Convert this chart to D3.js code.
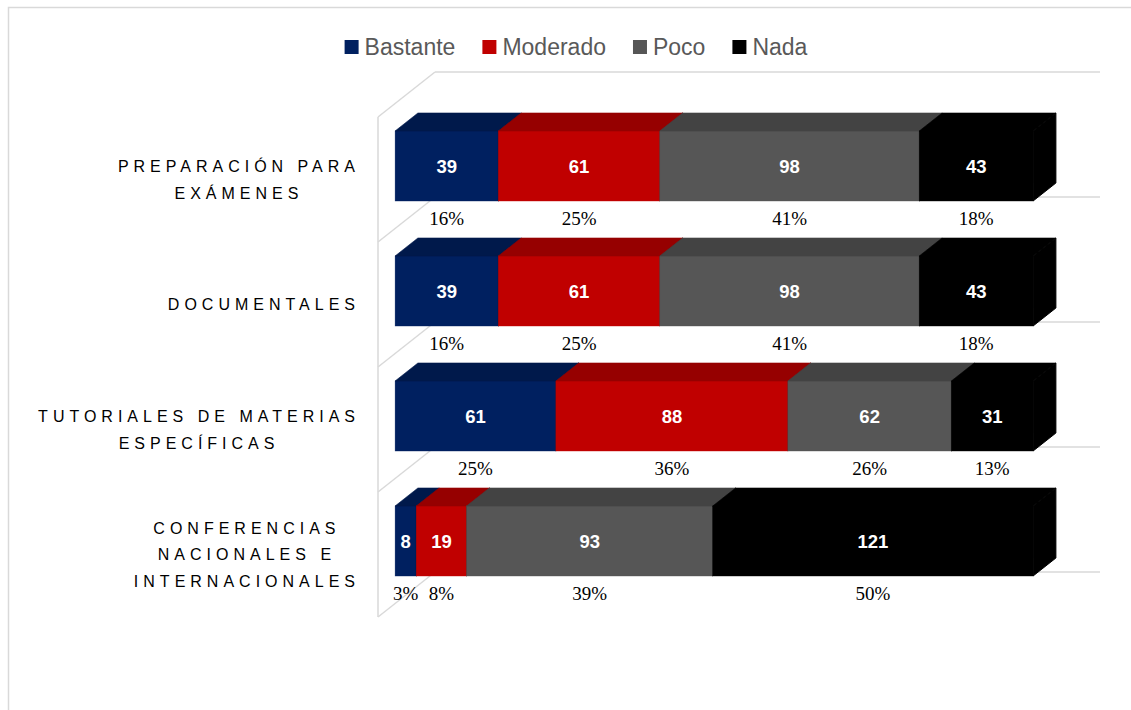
<!DOCTYPE html>
<html>
<head>
<meta charset="utf-8">
<script src="https://cdn.jsdelivr.net/npm/d3@7"></script>
<style>
  html, body { margin: 0; padding: 0; background: #ffffff; }
  svg { display: block; }
</style>
</head>
<body>
<svg id="chart" width="1131" height="710"></svg>
<script>
// ---------------- DATA ----------------
const categories = [
  ["PREPARACIÓN PARA", "EXÁMENES"],
  ["DOCUMENTALES"],
  ["TUTORIALES DE MATERIAS", "ESPECÍFICAS"],
  ["CONFERENCIAS", "NACIONALES E", "INTERNACIONALES"]
];
const seriesNames = ["Bastante", "Moderado", "Poco", "Nada"];
const bastante = [39, 39, 61, 8];
const moderado = [61, 61, 88, 19];
const poco     = [98, 98, 62, 93];
const nada     = [43, 43, 31, 121];
const percentLabels = [
  ["16%", "25%", "41%", "18%"],
  ["16%", "25%", "41%", "18%"],
  ["25%", "36%", "26%", "13%"],
  ["3%",  "8%",  "39%", "50%"]
];
const seriesColors = ["#002060", "#C00000", "#565656", "#000000"];

// ---------------- LAYOUT ----------------
const svg = d3.select("#chart");
const W = 1131, H = 710;
const wallFrontX = 378;
const wallTop = 117, wallBottom = 617;
const depthX = 57, depthY = 45;
const barDepthFrac = 0.4;
const barDX = depthX * barDepthFrac, barDY = depthY * barDepthFrac;
const barOffX = depthX * (1 - barDepthFrac) / 2, barOffY = depthY * (1 - barDepthFrac) / 2;
const gridEndX = 1100;
const gridColor = "#d9d9d9";

const values = [bastante, moderado, poco, nada];
const rows = categories.map((c, i) => {
  const vals = values.map(s => s[i]);
  const total = d3.sum(vals);
  let acc = 0;
  const segs = vals.map((v, j) => {
    const s = { j, v, x0: acc / total, x1: (acc + v) / total, pct: percentLabels[i][j] };
    acc += v;
    return s;
  });
  return { i, label: c, segs };
});

const catKeys = categories.map((c, i) => i);
const y = d3.scaleBand().domain(catKeys).range([wallTop, wallBottom]);
const x = d3.scaleLinear().domain([0, 1]).range([wallFrontX, 1016]);
const barH = y.bandwidth() * 0.56;

// outer chart border
svg.append("rect")
  .attr("x", 8.5).attr("y", 7.5)
  .attr("width", W + 20).attr("height", H + 20)
  .attr("fill", "none").attr("stroke", gridColor).attr("stroke-width", 1.5);

// ---------------- WALLS / GRID ----------------
const grid = svg.append("g").attr("stroke", gridColor).attr("stroke-width", 1.5).attr("fill", "none");
grid.append("line")
  .attr("x1", wallFrontX).attr("x2", wallFrontX)
  .attr("y1", wallTop).attr("y2", wallBottom);
const bounds = catKeys.map(k => y(k)).concat([wallBottom]);
bounds.forEach(b => {
  grid.append("line")
    .attr("x1", wallFrontX).attr("y1", b)
    .attr("x2", wallFrontX + depthX).attr("y2", b - depthY);
  grid.append("line")
    .attr("x1", wallFrontX + depthX).attr("y1", b - depthY)
    .attr("x2", gridEndX).attr("y2", b - depthY);
});

// ---------------- BARS ----------------
const bars = svg.append("g");
rows.forEach(r => {
  const cy = y(r.i) + y.bandwidth() / 2 - barOffY;
  const top = cy - barH / 2, bot = cy + barH / 2;
  const g = bars.append("g");
  r.segs.forEach(s => {
    const xa = x(s.x0) + barOffX;
    const xb = x(s.x1) + barOffX;
    const front = d3.color(seriesColors[s.j]);
    const frontC = front.formatHex();
    const topC = front.darker(0.7).formatHex();
    const sideC = front.darker(1).formatHex();
    g.append("rect")
      .attr("x", xa).attr("y", top)
      .attr("width", xb - xa).attr("height", bot - top)
      .attr("fill", frontC).attr("stroke", frontC).attr("stroke-width", 0.4);
    g.append("path")
      .attr("d", `M${xa},${top}L${xa + barDX},${top - barDY}L${xb + barDX},${top - barDY}L${xb},${top}Z`)
      .attr("fill", topC).attr("stroke", topC).attr("stroke-width", 0.6);
    g.append("path")
      .attr("d", `M${xb},${top}L${xb + barDX},${top - barDY}L${xb + barDX},${bot - barDY}L${xb},${bot}Z`)
      .attr("fill", sideC).attr("stroke", sideC).attr("stroke-width", 1)
      .attr("stroke-linejoin", "round");
  });
  r.segs.forEach(s => {
    const xa = x(s.x0) + barOffX, xb = x(s.x1) + barOffX;
    g.append("text")
      .attr("x", (xa + xb) / 2).attr("y", cy)
      .attr("dy", "0.36em")
      .attr("text-anchor", "middle")
      .attr("font-family", "Liberation Sans, Arial, sans-serif")
      .attr("font-weight", "bold")
      .attr("font-size", 18.5)
      .attr("fill", "#ffffff")
      .text(s.v);
  });
  r.segs.forEach(s => {
    const xa = x(s.x0) + barOffX, xb = x(s.x1) + barOffX;
    g.append("text")
      .attr("x", (xa + xb) / 2).attr("y", bot + 24)
      .attr("text-anchor", "middle")
      .attr("font-family", "Liberation Serif, 'Times New Roman', serif")
      .attr("font-size", 19)
      .attr("fill", "#000000")
      .text(s.pct);
  });
});

// ---------------- CATEGORY LABELS ----------------
const labelRight = 355;
const ls = 5.0, lineH = 26.5;
const labG = svg.append("g")
  .attr("font-family", "Liberation Sans, Arial, sans-serif")
  .attr("font-size", 16)
  .attr("fill", "#000000");
rows.forEach(r => {
  const cy = y(r.i) + y.bandwidth() / 2;
  const n = r.label.length;
  const texts = r.label.map((line, li) =>
    labG.append("text")
      .attr("y", cy + (li - (n - 1) / 2) * lineH)
      .attr("dy", "0.36em")
      .attr("letter-spacing", ls)
      .attr("text-anchor", "middle")
      .text(line));
  const maxW = d3.max(texts, t => t.node().getComputedTextLength()) - ls;
  const center = labelRight - maxW / 2;
  texts.forEach(t => t.attr("x", center + ls / 2));
});

// ---------------- LEGEND ----------------
const leg = svg.append("g");
const sq = 14, gapT = 6, gapI = 27, legY = 47;
let lx = 0;
seriesNames.forEach((name, j) => {
  const it = leg.append("g").attr("transform", `translate(${lx},0)`);
  it.append("rect").attr("x", 0).attr("y", legY - sq / 2).attr("width", sq).attr("height", sq)
    .attr("fill", seriesColors[j]);
  const t = it.append("text").attr("x", sq + gapT).attr("y", legY).attr("dy", "0.36em")
    .attr("font-family", "Liberation Sans, Arial, sans-serif")
    .attr("font-size", 23).attr("fill", "#595959").text(name);
  const w = t.node().getComputedTextLength();
  lx += sq + gapT + w + gapI;
});
const legW = lx - gapI;
leg.attr("transform", `translate(${576 - legW / 2},0)`);
</script>
</body>
</html>
